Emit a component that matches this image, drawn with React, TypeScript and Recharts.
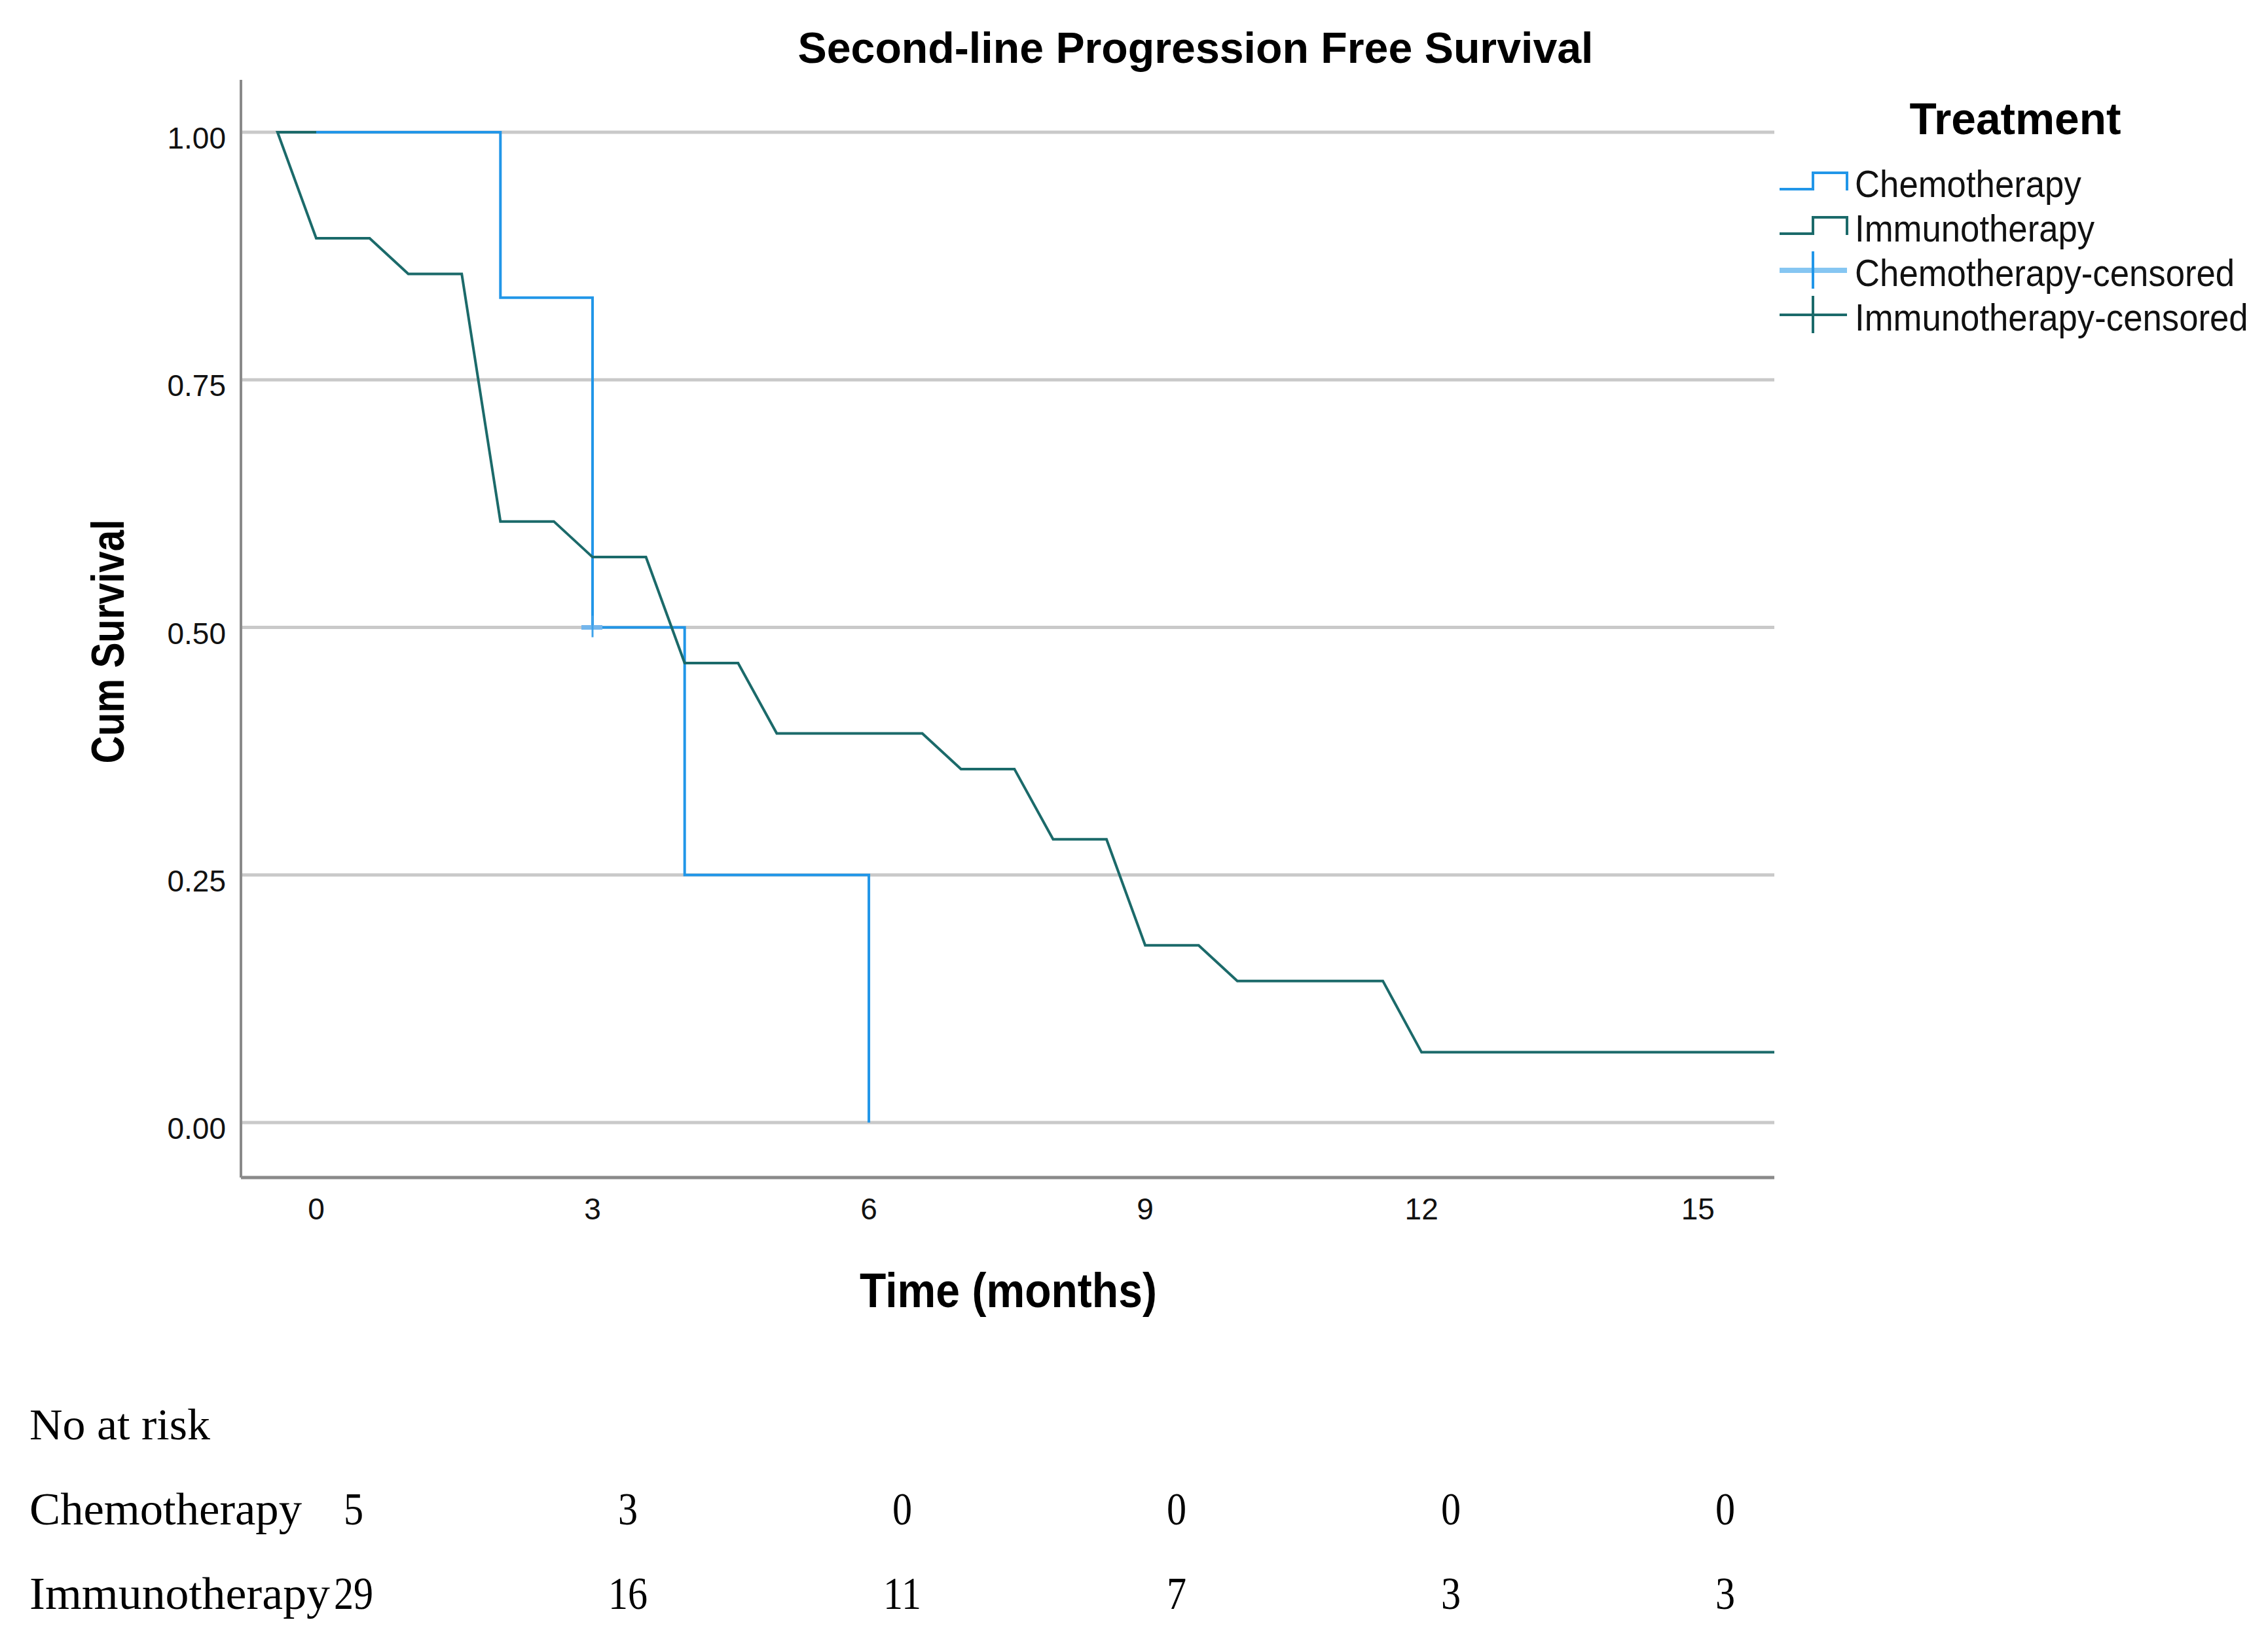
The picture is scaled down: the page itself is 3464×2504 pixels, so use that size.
import React from 'react'
import {
  ComposedChart,
  Line,
  Scatter,
  XAxis,
  YAxis,
  CartesianGrid,
  Legend,
  Label,
} from 'recharts'

const W = 3464
const H = 2504

// Kaplan-Meier points (months, cumulative survival)
const chemoTime = [-0.42, 2, 2, 3, 3, 4, 4, 6, 6]
const chemoSurv = [1, 1, 0.833, 0.833, 0.5, 0.5, 0.25, 0.25, 0]

const immunoTime = [0, -0.42, 0, 0.58, 1, 1.58, 2, 2.58, 3, 3.58, 4, 4.58, 5, 6.58, 7, 7.58, 8, 8.58, 9, 9.58, 10, 11.58, 12, 15.83]
const immunoSurv = [1, 1, 0.893, 0.893, 0.857, 0.857, 0.607, 0.607, 0.571, 0.571, 0.464, 0.464, 0.393, 0.393, 0.357, 0.357, 0.286, 0.286, 0.179, 0.179, 0.143, 0.143, 0.071, 0.071]

const chemoCensorTime = [3]
const chemoCensorSurv = [0.5]

const xTicks = [0, 3, 6, 9, 12, 15]
const yTicks = [0, 0.25, 0.5, 0.75, 1]

const riskGroups = ['Chemotherapy', 'Immunotherapy']
const riskChemo = [5, 3, 0, 0, 0, 0]
const riskImmuno = [29, 16, 11, 7, 3, 3]

const legendLabels = ['Chemotherapy', 'Immunotherapy', 'Chemotherapy-censored', 'Immunotherapy-censored']

const CHEMO = '#2196e8'
const CHEMO_LIGHT = '#86c6f2'
const IMMUNO = '#1b6a6a'
const SANS = '"Liberation Sans", Arial, sans-serif'
const SERIF = '"Liberation Serif", "Times New Roman", serif'

const zip = (t: number[], s: number[]) => t.map((v, i) => ({ t: v, s: s[i] }))
const chemoData = zip(chemoTime, chemoSurv)
const immunoData = zip(immunoTime, immunoSurv)
const censorData = zip(chemoCensorTime, chemoCensorSurv)

function CensorMark(props: any) {
  const { cx, cy } = props
  return (
    <g>
      <line x1={cx - 17} x2={cx + 15} y1={cy} y2={cy} stroke="#74b6ec" strokeWidth={7} />
      <line x1={cx} x2={cx} y1={cy - 18} y2={cy + 15} stroke="#3ea2ea" strokeWidth={3} />
    </g>
  )
}

function YTick(props: any) {
  const { y, payload } = props
  return (
    <text x={345} y={y + 25} textAnchor="end" fontSize={46} fontFamily={SANS} fill="#111">
      {payload.value.toFixed(2)}
    </text>
  )
}

function XTick(props: any) {
  const { x, y, payload } = props
  return (
    <text x={x} y={y + 64} textAnchor="middle" fontSize={46} fontFamily={SANS} fill="#111">
      {payload.value}
    </text>
  )
}

function LegendBox() {
  const x0 = 2718
  const xm = 2769
  const x1 = 2821
  return (
    <svg width={764} height={420} style={{ overflow: 'visible' }}>
      <g transform="translate(-2700,-140)">
        <text x={3078} y={205} textAnchor="middle" fontSize={68} fontWeight="bold" fontFamily={SANS}
          textLength={323} lengthAdjust="spacingAndGlyphs">
          Treatment
        </text>
        {legendLabels.map((label, i) => {
          const b = 301 + i * 68
          const color = i % 2 === 0 ? CHEMO : IMMUNO
          const censored = i >= 2
          return (
            <g key={label}>
              {censored ? (
                <g>
                  <line x1={x0} x2={x1} y1={b - 24} y2={b - 24} stroke={i === 2 ? CHEMO_LIGHT : IMMUNO}
                    strokeWidth={i === 2 ? 8 : 4} />
                  <line x1={xm} x2={xm} y1={b - 53} y2={b + 4} stroke={color} strokeWidth={4} />
                </g>
              ) : (
                <path
                  d={`M${x0},${b - 12} H${xm} V${b - 37} H${x1} V${b - 10}`}
                  fill="none"
                  stroke={color}
                  strokeWidth={4}
                />
              )}
              <g transform={`translate(2833,${b}) scale(0.925,1)`}>
                <text x={0} y={0} fontSize={57} fontFamily={SANS} fill="#111">
                  {label}
                </text>
              </g>
            </g>
          )
        })}
      </g>
    </svg>
  )
}

export default function App() {
  const colX = (i: number) => 540 + i * 419
  return (
    <div style={{ position: 'absolute', left: 0, top: 0, width: W, height: H, background: '#fff' }}>
      <ComposedChart
        width={W}
        height={H}
        margin={{ top: 122, right: 754, bottom: 605, left: 0 }}
      >
        <CartesianGrid vertical={false} horizontalValues={yTicks} stroke="#c9c9c9" strokeWidth={5} />
        <XAxis
          dataKey="t"
          type="number"
          domain={[-0.817, 15.83]}
          ticks={xTicks}
          allowDataOverflow
          height={100}
          tickLine={false}
          tickSize={0}
          tickMargin={0}
          axisLine={{ stroke: '#8a8a8a', strokeWidth: 5 }}
          tick={<XTick />}
        >
          <Label
            content={() => (
              <text x={1540} y={1997} textAnchor="middle" fontSize={74} fontWeight="bold" fontFamily={SANS}
                textLength={454} lengthAdjust="spacingAndGlyphs">
                Time (months)
              </text>
            )}
          />
        </XAxis>
        <YAxis
          dataKey="s"
          type="number"
          domain={[-0.0555, 1.0529]}
          ticks={yTicks}
          allowDataOverflow
          width={368}
          tickLine={false}
          tickSize={0}
          axisLine={{ stroke: '#8a8a8a', strokeWidth: 4 }}
          tick={<YTick />}
        >
          <Label
            content={() => (
              <text transform="translate(189,980) rotate(-90)" textAnchor="middle" fontSize={70} fontWeight="bold"
                fontFamily={SANS} textLength={373} lengthAdjust="spacingAndGlyphs">
                Cum Survival
              </text>
            )}
          />
        </YAxis>
        <Legend
          layout="horizontal"
          verticalAlign="middle"
          align="center"
          wrapperStyle={{ left: 2700, top: 140, width: 764, height: 420 }}
          content={() => <LegendBox />}
        />
        <Line
          data={chemoData}
          dataKey="s"
          type="linear"
          stroke={CHEMO}
          strokeWidth={4}
          dot={false}
          activeDot={false}
          isAnimationActive={false}
        />
        <Line
          data={immunoData}
          dataKey="s"
          type="linear"
          stroke={IMMUNO}
          strokeWidth={4}
          dot={false}
          activeDot={false}
          isAnimationActive={false}
        />
        <Scatter data={censorData} dataKey="s" shape={<CensorMark />} isAnimationActive={false} />
      </ComposedChart>

      <svg width={W} height={H} style={{ position: 'absolute', left: 0, top: 0, pointerEvents: 'none' }}>
        <text x={1826} y={96} textAnchor="middle" fontSize={67} fontWeight="bold" fontFamily={SANS}
          textLength={1215} lengthAdjust="spacingAndGlyphs">
          Second-line Progression Free Survival
        </text>

        <text x={45} y={2199} fontSize={68} fontFamily={SERIF} textLength={276} lengthAdjust="spacingAndGlyphs">
          No at risk
        </text>
        {[riskChemo, riskImmuno].map((row, r) => {
          const b = r === 0 ? 2329 : 2458
          return (
            <g key={riskGroups[r]}>
              <text x={45} y={b} fontSize={70} fontFamily={SERIF}
                textLength={r === 0 ? 416 : 459} lengthAdjust="spacingAndGlyphs">
                {riskGroups[r]}
              </text>
              {row.map((n, i) => (
                <g key={i} transform={`translate(${colX(i)},${b}) scale(0.86,1)`}>
                  <text x={0} y={0} textAnchor="middle" fontSize={70} fontFamily={SERIF}>
                    {n}
                  </text>
                </g>
              ))}
            </g>
          )
        })}
      </svg>
    </div>
  )
}
